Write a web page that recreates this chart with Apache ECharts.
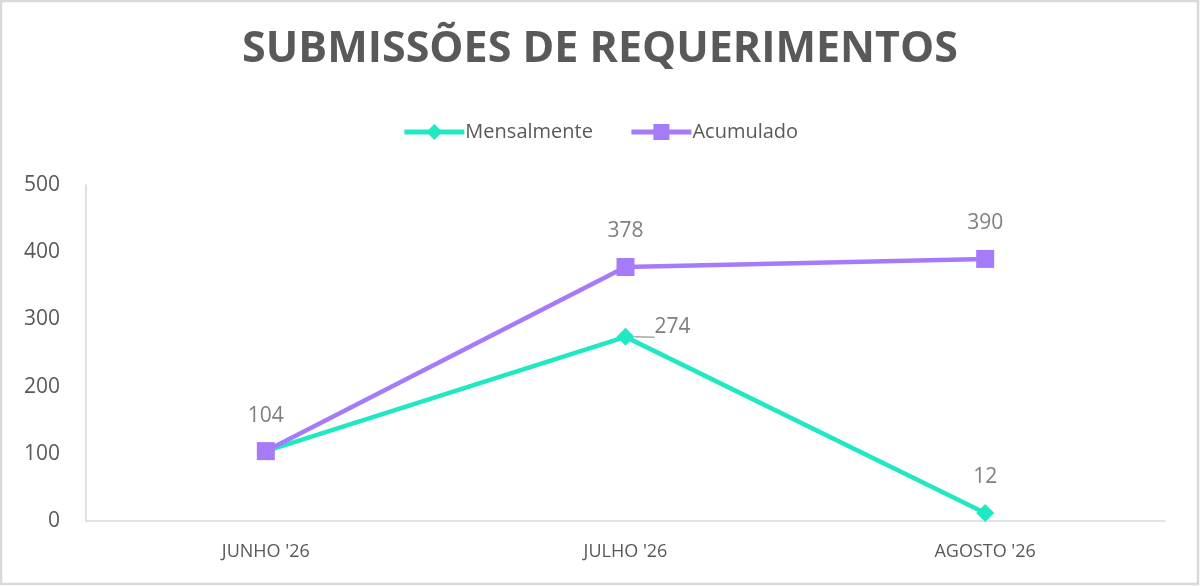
<!DOCTYPE html>
<html>
<head>
<meta charset="utf-8">
<script src="https://cdn.jsdelivr.net/npm/echarts@6/dist/echarts.min.js"></script>
<style>
html,body{margin:0;padding:0;background:#fff;}
#chart{width:1200px;height:586px;}
</style>
</head>
<body>
<div id="chart"></div>
<script>
const categories = ["JUNHO '26", "JULHO '26", "AGOSTO '26"];
const mensalmente = [104, 274, 12];
const acumulado = [104, 378, 390];
const yTicks = [0, 100, 200, 300, 400, 500];

const chart = echarts.init(document.getElementById('chart'), null, {renderer: 'canvas'});
const labelColor = '#7f7f7f';
const font = '"Open Sans", "Noto Sans", sans-serif';

const mensalData = mensalmente.map((v, i) => {
  if (i === 0) return {value: v, label: {show: false}};
  if (i === 1) return {
    value: v,
    label: {position: 'right', offset: [4, -10]},
    labelLine: {show: true, lineStyle: {color: '#a6a6a6', width: 1.5}}
  };
  return {value: v};
});

chart.setOption({
  backgroundColor: '#ffffff',
  animation: false,
  title: {
    text: 'SUBMISSÕES DE REQUERIMENTOS',
    left: 'center',
    top: 23,
    textStyle: {fontFamily: font, fontWeight: 'bold', fontSize: 43, color: '#595959'}
  },
  legend: {
    top: 117,
    left: 'center',
    itemWidth: 60,
    itemHeight: 20,
    itemGap: 36,
    lineStyle: {width: 5},
    textStyle: {fontFamily: font, fontSize: 20, color: '#595959', padding: [0,0,0,-4]},
    data: ['Mensalmente', 'Acumulado']
  },
  grid: {left: 86, right: 35, top: 185, bottom: 65, containLabel: false},
  xAxis: {
    type: 'category',
    data: categories,
    boundaryGap: true,
    axisLine: {lineStyle: {color: '#d9d9d9', width: 1.5}},
    axisTick: {show: false},
    axisLabel: {margin: 22, fontFamily: font, fontSize: 18, color: '#595959'}
  },
  yAxis: {
    type: 'value',
    min: yTicks[0],
    max: yTicks[yTicks.length - 1],
    interval: 100,
    axisLine: {show: true, lineStyle: {color: '#d9d9d9', width: 1.5}},
    axisTick: {show: false},
    splitLine: {show: false},
    axisLabel: {margin: 26, fontFamily: font, fontSize: 21, color: '#595959'}
  },
  series: [
    {
      name: 'Mensalmente',
      type: 'line',
      data: mensalData,
      symbol: 'diamond',
      symbolSize: 18,
      lineStyle: {width: 4.5, color: '#1fe8c3'},
      itemStyle: {color: '#1fe8c3'},
      label: {show: true, position: 'top', distance: 16, fontFamily: font, fontSize: 21, color: labelColor}
    },
    {
      name: 'Acumulado',
      type: 'line',
      data: acumulado,
      symbol: 'rect',
      symbolSize: 18,
      lineStyle: {width: 4.5, color: '#a67bfa'},
      itemStyle: {color: '#a67bfa'},
      label: {show: true, position: 'top', distance: 16, fontFamily: font, fontSize: 21, color: labelColor}
    }
  ],
  graphic: [{
    type: 'rect',
    shape: {x: 1, y: 1, width: 1197, height: 583},
    style: {fill: 'none', stroke: '#d9d9d9', lineWidth: 2.5},
    silent: true
  }]
});
</script>
</body>
</html>
